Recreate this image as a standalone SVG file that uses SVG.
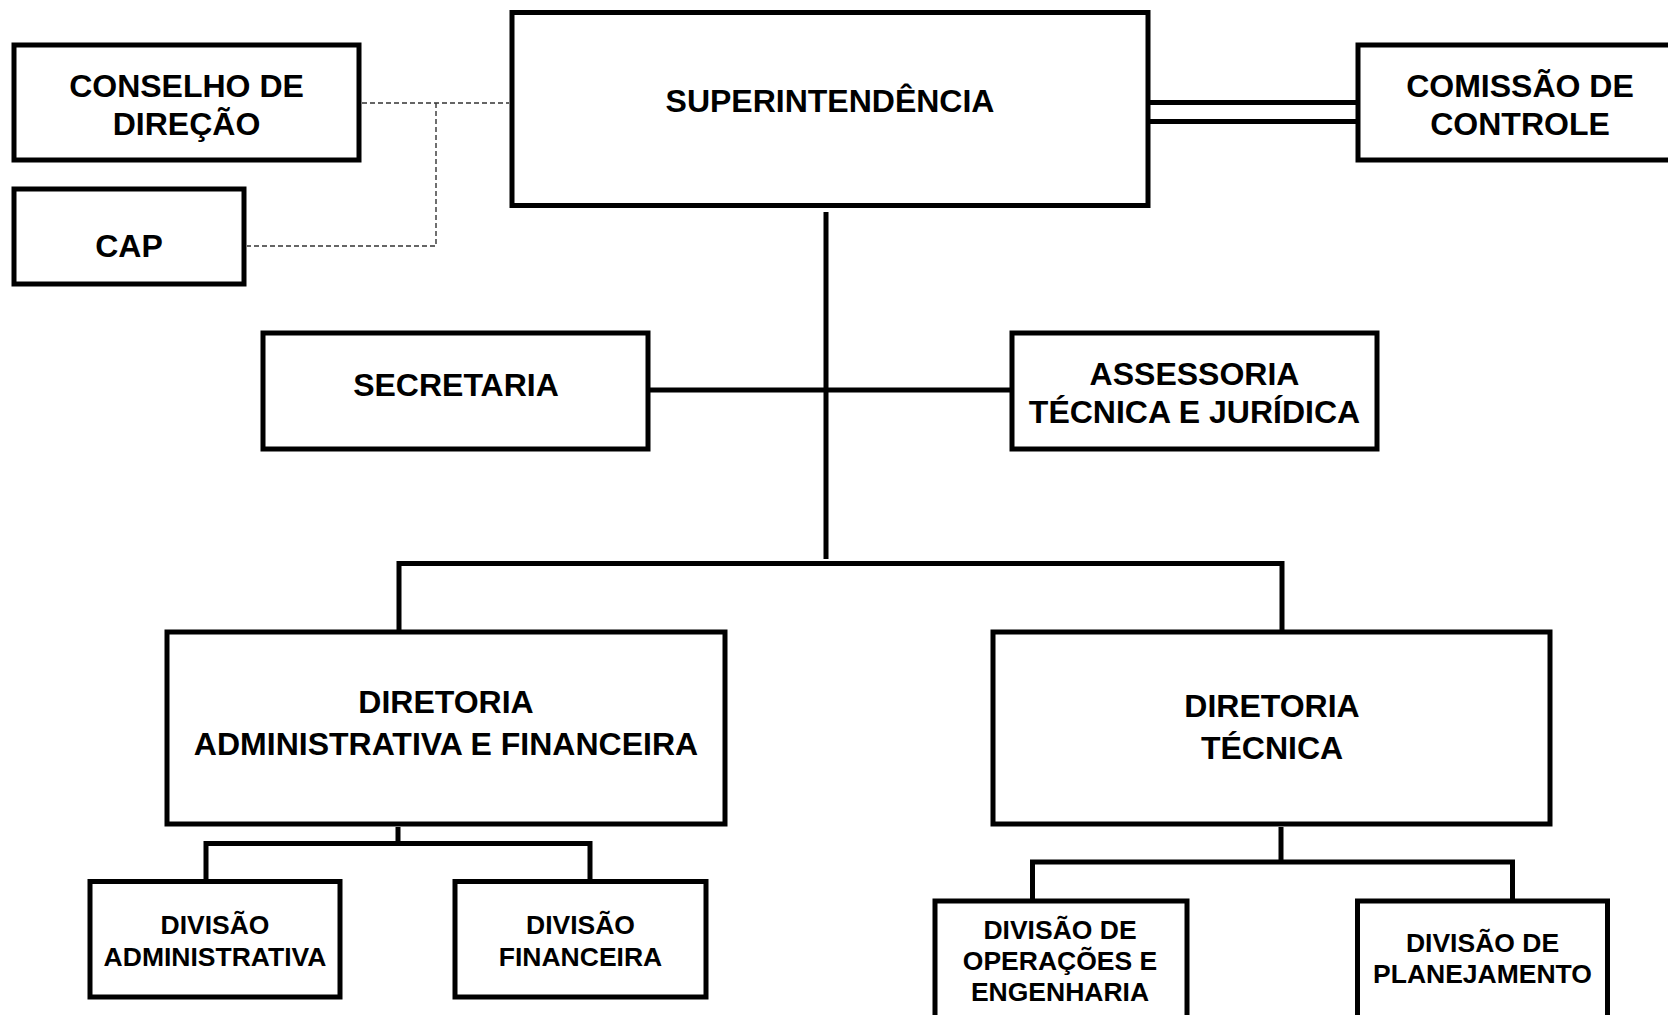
<svg xmlns="http://www.w3.org/2000/svg" width="1668" height="1015" viewBox="0 0 1668 1015">
<style>
.box{fill:#fff;stroke:#000;stroke-width:5}
.ln{fill:none;stroke:#000;stroke-width:5}
.dash{fill:none;stroke:#333;stroke-width:1.4;stroke-dasharray:5 3}
text{font-family:"Liberation Sans",Arial,sans-serif;font-weight:bold;fill:#000;text-anchor:middle}
.big{font-size:32px}
.sm{font-size:26.5px}
</style>
<rect width="1668" height="1015" fill="#fff"/>
<g id="connectors">
<path class="dash" d="M362,103 H509"/>
<path class="dash" d="M436,103 V246 H247"/>
<path class="ln" stroke-width="4.5" d="M1150,102.5 H1356 M1150,121.5 H1356"/>
<path class="ln" d="M826,212 V559"/>
<path class="ln" d="M650,390 H1010"/>
<path class="ln" d="M399,630 V563.5 H1282 V630"/>
<path class="ln" d="M398,827 V843.5"/>
<path class="ln" d="M206,879 V843.5 H590 V879"/>
<path class="ln" d="M1281,827 V862"/>
<path class="ln" d="M1032.5,899 V862 H1512.5 V899"/>
</g>
<g id="conselho"><rect class="box" x="14" y="45" width="345" height="115"/><text class="big" x="186.5" y="97">CONSELHO DE</text><text class="big" x="186.5" y="135">DIREÇÃO</text></g>
<g id="cap"><rect class="box" x="14" y="189" width="230" height="95"/><text class="big" x="129" y="257">CAP</text></g>
<g id="superintendencia"><rect class="box" x="512" y="12.5" width="636" height="193"/><text class="big" x="830" y="111.5">SUPERINTENDÊNCIA</text></g>
<g id="comissao"><rect class="box" x="1358" y="45" width="340" height="115"/><text class="big" x="1520" y="97">COMISSÃO DE</text><text class="big" x="1520" y="134.5">CONTROLE</text></g>
<g id="secretaria"><rect class="box" x="263" y="333" width="385" height="116"/><text class="big" x="456" y="396">SECRETARIA</text></g>
<g id="assessoria"><rect class="box" x="1012" y="333" width="365" height="116"/><text class="big" x="1194.5" y="385">ASSESSORIA</text><text class="big" x="1194.5" y="423">TÉCNICA E JURÍDICA</text></g>
<g id="dir-adm-fin"><rect class="box" x="167" y="632" width="558" height="192"/><text class="big" x="446" y="713">DIRETORIA</text><text class="big" x="446" y="755">ADMINISTRATIVA E FINANCEIRA</text></g>
<g id="dir-tecnica"><rect class="box" x="993" y="632" width="557" height="192"/><text class="big" x="1272" y="716.5">DIRETORIA</text><text class="big" x="1272" y="759">TÉCNICA</text></g>
<g id="div-adm"><rect class="box" x="90" y="881.5" width="250" height="115.5"/><text class="sm" x="215" y="934">DIVISÃO</text><text class="sm" x="215" y="966">ADMINISTRATIVA</text></g>
<g id="div-fin"><rect class="box" x="455" y="881.5" width="251" height="115.5"/><text class="sm" x="580.5" y="934">DIVISÃO</text><text class="sm" x="580.5" y="966">FINANCEIRA</text></g>
<g id="div-op"><rect class="box" x="935" y="901" width="252" height="140"/><text class="sm" x="1060" y="938.5">DIVISÃO DE</text><text class="sm" x="1060" y="970">OPERAÇÕES E</text><text class="sm" x="1060" y="1000.5">ENGENHARIA</text></g>
<g id="div-plan"><rect class="box" x="1357.5" y="901" width="250" height="140"/><text class="sm" x="1482.5" y="951.5">DIVISÃO DE</text><text class="sm" x="1482.5" y="983">PLANEJAMENTO</text></g>
</svg>
